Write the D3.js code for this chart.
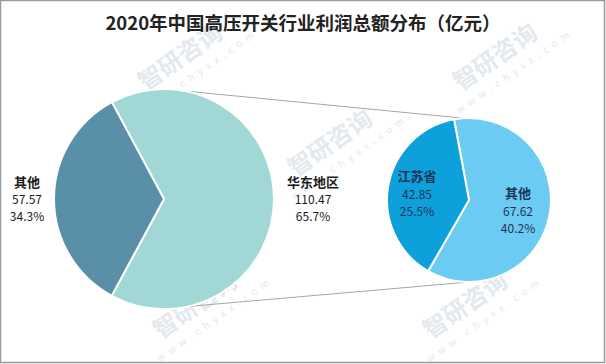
<!DOCTYPE html>
<html>
<head>
<meta charset="utf-8">
<script src="https://cdn.jsdelivr.net/npm/d3@7"></script>
<style>
  body { margin: 0; background: #fff; }
  svg { display: block; font-family: "Noto Sans CJK SC", "Noto Sans", sans-serif; }
</style>
</head>
<body>
<svg id="canvas"></svg>
<script>
const title = "2020年中国高压开关行业利润总额分布（亿元）";

// main pie
const mainNames = ["华东地区", "其他"];
const mainValues = [110.47, 57.57];
const mainShares = ["65.7%", "34.3%"];

// secondary pie (breakdown of 华东地区)
const subNames = ["其他", "江苏省"];
const subValues = [67.62, 42.85];
const subShares = ["40.2%", "25.5%"];

function getChartConfig() {
  let canvasWidth = 606,
    canvasHeight = 364;
  let svg = d3.select("#canvas");
  svg.attr("width", canvasWidth).attr("height", canvasHeight);

  let main = { cx: 164, cy: 199, r: 110, rot: -28.3 };
  let sub = { cx: 469, cy: 200, r: 82, rot: -10.5 };

  return { canvasWidth, canvasHeight, svg, main, sub };
}

function drawFrame(config) {
  let { svg, canvasWidth, canvasHeight } = config;
  svg.append("rect")
    .attr("x", 0.5).attr("y", 0.5)
    .attr("width", canvasWidth - 2).attr("height", canvasHeight - 2)
    .attr("fill", "#fff")
    .attr("stroke", "#9a9a9a")
    .attr("stroke-width", 1.5);
}

function drawWatermarks(config) {
  let { svg } = config;
  let spots = [[185, 64], [500, 64], [335, 150], [200, 312], [470, 312]];
  let g = svg.append("g").attr("fill", "#e3e9ef");
  spots.forEach(([x, y]) => {
    let w = g.append("g").attr("transform", `translate(${x},${y}) rotate(-35)`);
    w.append("text")
      .attr("text-anchor", "middle")
      .style("font-size", "24px")
      .style("font-weight", "bold")
      .text("智研咨询");
    w.append("text")
      .attr("y", 18)
      .attr("x", 8)
      .attr("text-anchor", "middle")
      .style("font-size", "10px")
      .style("letter-spacing", "5px")
      .text("www.chyxx.com");
  });
}

function drawTitle(config) {
  let { svg, canvasWidth } = config;
  svg.append("text")
    .attr("x", canvasWidth / 2)
    .attr("y", 30)
    .attr("text-anchor", "middle")
    .attr("fill", "#222")
    .style("font-size", "18.5px")
    .style("font-weight", "bold")
    .text(title);
}

function drawConnectors(config) {
  let { svg, main, sub } = config;
  const pt = (p, deg) => {
    let a = (deg * Math.PI) / 180;
    return [p.cx + p.r * Math.sin(a), p.cy - p.r * Math.cos(a)];
  };
  let lines = [
    [pt(main, 11), pt(sub, -4)],
    [pt(main, 168), pt(sub, 180)],
  ];
  svg.selectAll(".connector")
    .data(lines)
    .enter()
    .append("line")
    .attr("class", "connector")
    .attr("x1", (d) => d[0][0]).attr("y1", (d) => d[0][1])
    .attr("x2", (d) => d[1][0]).attr("y2", (d) => d[1][1])
    .attr("stroke", "#a6a6a6")
    .attr("stroke-width", 1);
}

function drawPie(config, p, names, values, colors) {
  let { svg } = config;
  let start = (p.rot * Math.PI) / 180;
  let pie = d3.pie().sort(null).startAngle(start).endAngle(start + 2 * Math.PI);
  let arc = d3.arc().innerRadius(0).outerRadius(p.r);

  svg.append("g")
    .attr("transform", `translate(${p.cx},${p.cy})`)
    .selectAll("path")
    .data(pie(values))
    .enter()
    .append("path")
    .attr("d", arc)
    .attr("fill", (d, i) => colors[i])
    .attr("stroke", "#fff")
    .attr("stroke-width", 2)
    .attr("stroke-linejoin", "round");
}

function drawLabel(config, x, y, lines, color, gap) {
  let { svg } = config;
  let t = svg.append("text")
    .attr("text-anchor", "middle")
    .attr("fill", color)
    .style("font-size", "12px");
  lines.forEach((s, i) => {
    t.append("tspan")
      .attr("x", x)
      .attr("y", y + i * gap)
      .style("font-weight", i === 0 ? "bold" : "normal")
      .style("font-size", i === 0 ? "13px" : "12px")
      .text(s);
  });
}

function showData() {
  let config = getChartConfig();
  drawFrame(config);
  drawWatermarks(config);
  drawTitle(config);
  drawConnectors(config);
  drawPie(config, config.main, mainNames, mainValues, ["#a1d8d6", "#5a8fa8"]);
  drawPie(config, config.sub, subNames, subValues, ["#6ccbf3", "#0ea0da"]);

  drawLabel(config, 27, 187, [mainNames[1], mainValues[1].toFixed(2), mainShares[1]], "#1a1a1a", 17);
  drawLabel(config, 313, 187, [mainNames[0], mainValues[0].toFixed(2), mainShares[0]], "#1a1a1a", 17);
  drawLabel(config, 417, 181, [subNames[1], subValues[1].toFixed(2), subShares[1]], "#1d3557", 17.5);
  drawLabel(config, 518, 198, [subNames[0], subValues[0].toFixed(2), subShares[0]], "#1d3557", 17.5);
}

showData();
</script>
</body>
</html>
